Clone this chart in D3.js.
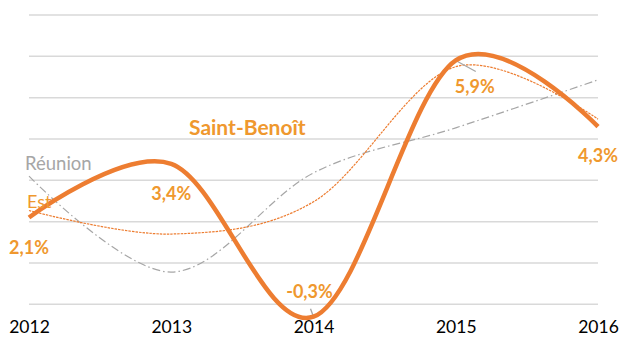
<!DOCTYPE html>
<html>
<head>
<meta charset="utf-8">
<script src="https://cdn.jsdelivr.net/npm/d3@7"></script>
<style>
  html, body { margin: 0; padding: 0; background: #fff; }
  svg { display: block; font-family: Lato, "Open Sans", sans-serif; }
</style>
</head>
<body>
<svg id="chart" width="620" height="338"></svg>
<script>
// Annual growth rates (%) 2012–2016
const years = ["2012", "2013", "2014", "2015", "2016"];
const saintBenoit = [2.1, 3.4, -0.3, 5.9, 4.3];
const est = [2.27, 1.70, 2.48, 5.75, 4.48];
const reunion = [3.10, 0.78, 3.18, 4.27, 5.43];
const gridTicks = [0, 1, 2, 3, 4, 5, 6, 7];
const valueLabels = ["2,1%", "3,4%", "-0,3%", "5,9%", "4,3%"];

const svg = d3.select("#chart");
const x = d3.scalePoint().domain(years).range([29, 598]);
const y = d3.scaleLinear().domain([0, 7]).range([304.3, 15]);

const orange = "#ED7D31";
const labelOrange = "#EF982E";
const grey = "#A6A6A6";

// horizontal gridlines
svg.append("g")
  .selectAll("line")
  .data(gridTicks)
  .join("line")
  .attr("x1", x.range()[0])
  .attr("x2", x.range()[1])
  .attr("y1", d => y(d))
  .attr("y2", d => y(d))
  .attr("stroke", "#D9D9D9")
  .attr("stroke-width", 1.5);

// x axis labels
const xAxis = d3.axisBottom(x).tickSize(0).tickPadding(0);
const gx = svg.append("g").attr("transform", "translate(0,321)").call(xAxis);
gx.select(".domain").remove();
gx.selectAll("text")
  .attr("font-family", "Lato, 'Open Sans', sans-serif")
  .attr("font-size", 17.5)
  .attr("fill", "#000");

const line = d3.line()
  .x((d, i) => x(years[i]))
  .y(d => y(d))
  .curve(d3.curveCardinal.tension(0));

// Réunion: grey dash-dot
svg.append("path")
  .datum(reunion)
  .attr("d", line)
  .attr("fill", "none")
  .attr("stroke", grey)
  .attr("stroke-width", 1.2)
  .attr("stroke-dasharray", "8,3,1.5,3");

// Est: thin orange dotted
svg.append("path")
  .datum(est)
  .attr("d", line)
  .attr("fill", "none")
  .attr("stroke", orange)
  .attr("stroke-width", 1.2)
  .attr("stroke-dasharray", "2.5,1");

// leader lines for two value labels
const leaders = [
  { i: 2, dx: -3, dy: -8 },
  { i: 3, dx: 20, dy: 11 }
];
svg.append("g")
  .selectAll("line")
  .data(leaders)
  .join("line")
  .attr("x1", d => x(years[d.i]))
  .attr("y1", d => y(saintBenoit[d.i]))
  .attr("x2", d => x(years[d.i]) + d.dx)
  .attr("y2", d => y(saintBenoit[d.i]) + d.dy)
  .attr("stroke", grey)
  .attr("stroke-width", 1.3);

// Saint-Benoît: thick orange
svg.append("path")
  .datum(saintBenoit)
  .attr("d", line)
  .attr("fill", "none")
  .attr("stroke", orange)
  .attr("stroke-width", 4.5)
  .attr("stroke-linecap", "butt");

// value labels (offsets relative to each point)
const labelOffsets = [
  { dx: 0, dy: 36 },
  { dx: 0, dy: 36 },
  { dx: -4, dy: -19 },
  { dx: 19, dy: 33 },
  { dx: 0, dy: 35 }
];
svg.append("g")
  .selectAll("text")
  .data(saintBenoit)
  .join("text")
  .attr("x", (d, i) => x(years[i]) + labelOffsets[i].dx)
  .attr("y", (d, i) => y(d) + labelOffsets[i].dy)
  .attr("text-anchor", "middle")
  .attr("font-size", 18)
  .attr("font-weight", "bold")
  .attr("fill", labelOrange)
  .text((d, i) => valueLabels[i]);

// series names
svg.append("text")
  .attr("x", 189).attr("y", 135)
  .attr("font-size", 21).attr("font-weight", "bold")
  .attr("fill", labelOrange)
  .text("Saint-Benoît");
svg.append("text")
  .attr("x", 25).attr("y", 170)
  .attr("font-size", 18.5)
  .attr("fill", grey)
  .text("Réunion");
svg.append("text")
  .attr("x", 27).attr("y", 208)
  .attr("font-size", 18)
  .attr("fill", labelOrange)
  .text("Est");
</script>
</body>
</html>
